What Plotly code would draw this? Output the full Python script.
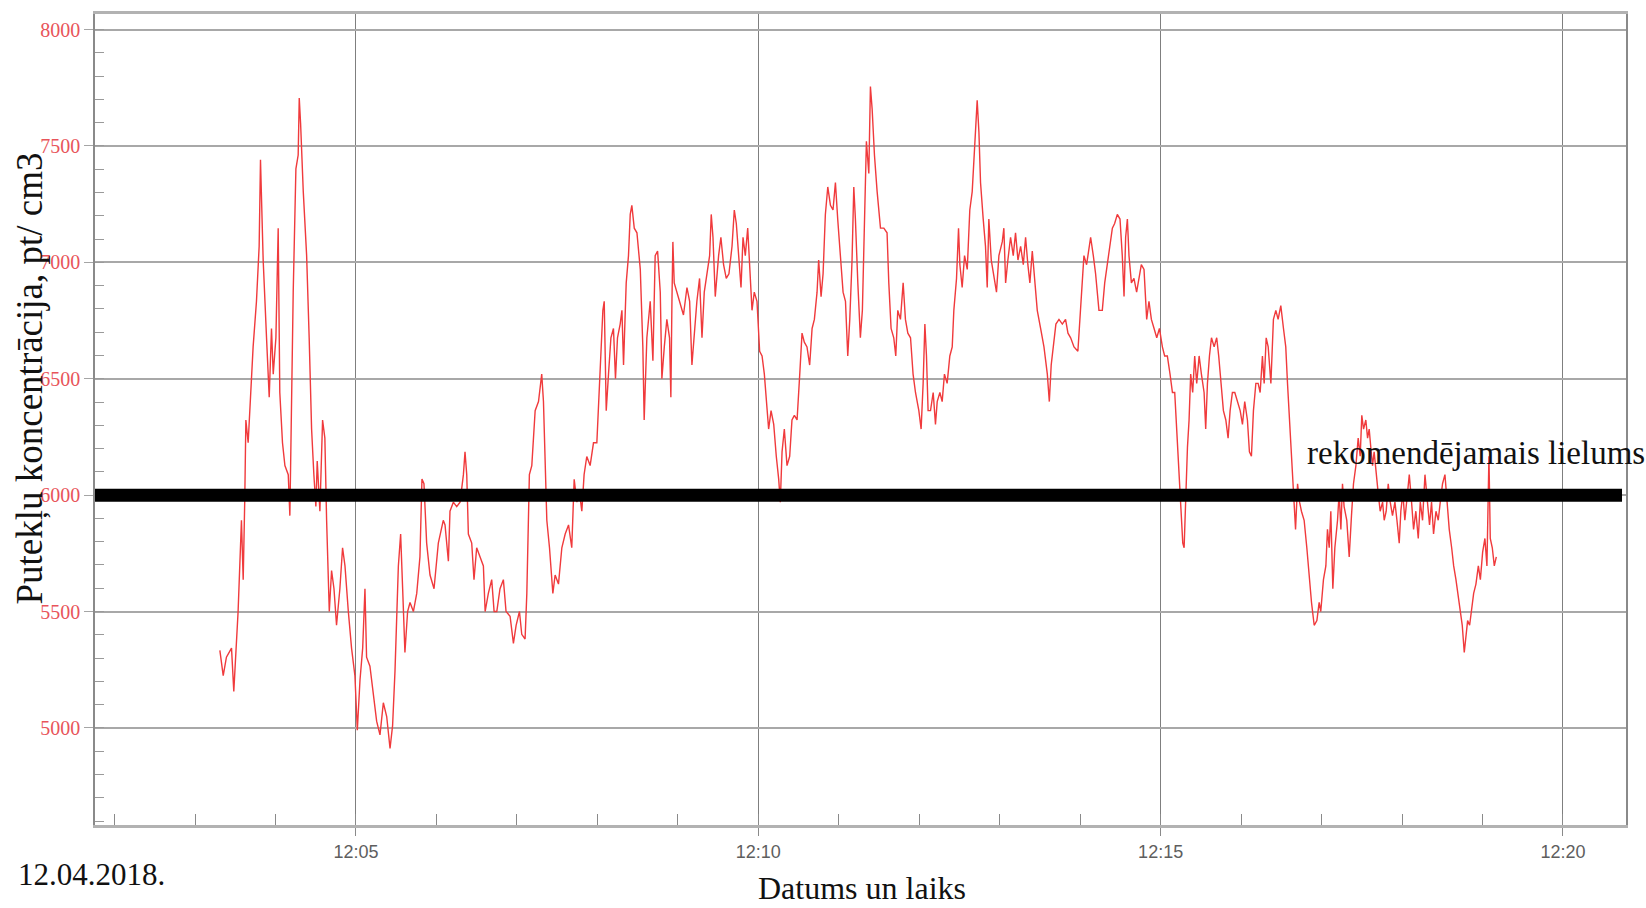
import pandas as pd
import plotly.graph_objects as go

# Seconds after 12:00:00 on 12.04.2018
elapsed_s = [
    198.5, 201.0, 203.4, 207.2, 208.9, 210.4, 212.1, 214.6, 215.9, 217.1,
    217.9, 219.6, 222.1, 223.3, 225.8, 227.8, 228.8, 230.8, 233.3, 235.3,
    237.0, 238.3, 240.3, 242.0, 243.2, 245.2, 247.0, 249.5, 250.7, 252.0,
    253.2, 255.2, 256.9, 257.7, 258.7, 260.7, 263.2, 265.1, 266.9, 268.6,
    270.1, 271.1, 273.1, 275.1, 276.8, 278.1, 280.1, 281.8, 283.6, 285.5,
    288.0, 290.0, 291.8, 294.3, 296.7, 299.2, 301.0, 303.0, 305.0, 306.7,
    307.9, 310.4, 312.9, 315.4, 317.9, 320.4, 322.9, 325.4, 327.3, 329.1,
    331.6, 333.3, 334.8, 336.5, 338.5, 340.3, 342.8, 345.3, 347.7, 349.2,
    350.7, 352.7, 355.2, 358.2, 361.4,
    365.1, 366.4, 368.9, 370.1, 372.6, 375.1, 377.6, 380.1, 381.3, 382.6,
    383.8, 386.3, 388.0, 390.0, 392.5, 395.0, 396.3, 398.7, 401.2, 403.0,
    405.0, 407.4, 409.9, 411.9, 414.9, 417.4, 419.4, 421.9, 423.6, 426.1,
    427.4, 429.3, 431.1, 433.6, 436.1, 438.5, 439.8, 441.0, 442.3, 444.3,
    446.8, 448.5, 451.0, 453.5, 456.0, 458.5, 460.9, 462.7, 464.7, 466.7,
    468.4, 470.1, 472.1, 474.6, 477.1, 479.6, 480.8, 482.1, 484.1, 485.1,
    486.6, 488.3, 490.1, 492.0, 493.5, 495.0, 497.0, 498.3, 499.5, 501.5,
    503.2, 504.5, 505.7, 507.5, 509.5, 512.0, 513.9, 514.9, 516.9, 519.4,
    521.4, 523.1, 524.9, 526.9,
    528.1, 529.9, 531.8, 533.8, 534.8, 535.6, 536.3, 537.3, 539.3, 541.8,
    544.2, 546.8, 548.8, 550.5, 552.2, 554.2, 556.2, 558.0, 559.7, 561.7,
    563.7, 564.9, 566.2, 567.9, 570.4, 572.1, 574.1, 576.1, 578.1, 580.4,
    582.1, 583.6, 585.3, 587.1, 588.6, 590.3, 592.1, 593.5, 595.3, 597.0,
    599.0, 601.0, 602.8, 604.5, 606.5, 607.7, 609.5, 611.5, 613.4, 615.2,
    616.4, 617.7, 619.4, 621.4, 623.4, 625.1, 626.9, 628.9, 630.9, 632.6,
    634.3, 636.3, 638.3, 640.1, 641.8, 643.8, 645.0, 646.8, 648.3, 650.0,
    651.8, 653.8, 655.7, 657.5, 659.2, 661.2, 663.2, 665.0, 666.7, 668.2,
    669.9, 671.2, 672.4, 674.2, 676.1, 677.6, 679.1, 680.6, 682.4, 683.6,
    684.9,
    686.6, 688.6, 691.1, 693.6, 696.0, 697.3, 699.0, 701.0, 702.5, 704.0,
    706.0, 708.0, 709.7, 711.5, 713.5, 715.4, 717.2, 719.7, 721.4, 722.9,
    724.2, 725.4, 726.6, 728.4, 730.4, 732.1, 733.4, 735.4, 737.1, 738.8,
    740.8, 742.8, 744.6, 745.8, 747.8, 749.3, 750.3, 752.0, 753.8, 755.8,
    757.7, 759.5, 761.2, 763.2, 764.5, 765.7, 767.7, 769.4, 770.7, 771.9,
    773.7, 775.7, 777.6, 779.4, 781.9, 783.1, 784.4, 786.1, 788.1, 790.1,
    791.8, 793.6, 795.6, 797.6, 799.3, 801.0, 802.5, 804.3, 806.0, 808.0,
    810.5, 813.0, 815.5, 817.0, 818.4, 820.4, 821.9, 824.2, 826.7, 829.1,
    830.9, 832.9, 835.4, 838.3, 839.8, 841.6, 842.8, 844.8, 846.6, 847.8,
    849.8, 851.5, 854.0,
    856.5, 858.3, 860.2, 862.2, 864.0, 865.7, 867.7, 869.7, 871.4, 872.7,
    873.9, 875.2, 876.4, 878.2, 880.1, 882.1, 883.9, 885.6, 887.6, 889.6,
    891.3, 893.1, 895.1, 897.1, 899.1, 901.3, 903.0, 905.0, 907.0, 908.8,
    910.5, 912.0, 913.5, 915.0, 916.5, 917.5, 918.7, 920.0, 921.2, 922.4,
    923.9, 925.4, 926.9, 928.7, 930.4, 932.4, 933.6, 934.9, 936.4, 937.9,
    939.9, 941.8, 943.3, 944.8, 946.8, 948.6, 950.3, 951.8, 953.5, 955.3,
    957.3, 959.3, 961.0, 962.7, 964.7, 966.2, 967.7, 969.2, 971.0, 972.7,
    974.2, 975.9, 977.2, 978.7, 980.2, 982.2, 984.1, 985.9, 987.6, 989.6,
    991.6, 993.3, 994.6, 996.1, 997.6, 999.1, 1000.6, 1002.1, 1003.6, 1005.0,
    1007.0, 1009.0, 1010.8, 1012.5, 1014.5, 1016.5, 1018.2,
    1019.4, 1021.4, 1023.2, 1024.4, 1025.7, 1026.9, 1028.4, 1029.9, 1031.9, 1033.1,
    1034.4, 1035.6, 1036.8, 1038.8, 1040.6, 1042.3, 1043.8, 1045.6, 1047.3, 1048.8,
    1050.0, 1051.3, 1053.0, 1054.3, 1055.5, 1056.7, 1058.0, 1059.2, 1060.7, 1062.2,
    1063.7, 1065.5, 1066.7, 1068.2, 1069.7, 1071.2, 1072.9, 1074.7, 1076.2, 1077.9,
    1079.1, 1080.6, 1082.1, 1083.6, 1085.4, 1087.1, 1088.6, 1090.3, 1092.1, 1093.6,
    1095.3, 1097.1, 1099.0, 1100.5, 1102.0, 1103.5, 1105.3, 1107.0, 1108.5, 1110.2,
    1112.0, 1113.5, 1115.2, 1117.0, 1118.5, 1120.2, 1121.9, 1123.4, 1124.9, 1126.4,
    1127.7, 1128.9, 1130.4, 1131.9, 1133.4, 1135.1, 1136.9, 1138.4, 1140.1, 1141.8,
    1143.3, 1144.8, 1145.8, 1147.3, 1148.8, 1150.3,
]

# Dust particle concentration, pt/cm3
concentration = [
    5333, 5225, 5304, 5343, 5157, 5343, 5500, 5892, 5637, 5990,
    6323, 6225, 6500, 6637, 6833, 7069, 7441, 7010, 6676, 6421,
    6716, 6520, 6676, 7147, 6441, 6225, 6127, 6088, 5912, 6480,
    6872, 7402, 7461, 7706, 7598, 7304, 7029, 6676, 6284, 6088,
    5951, 6147, 5931, 6323, 6245, 5892, 5500, 5676, 5598, 5441,
    5598, 5774, 5696, 5500, 5343, 5225, 4990, 5206, 5343, 5598,
    5304, 5265, 5147, 5029, 4970, 5108, 5049, 4912, 5010, 5245,
    5696, 5833, 5598, 5324, 5500, 5539, 5500, 5578, 5735, 6069,
    6049, 5794, 5657, 5598, 5794,
    5892, 5872, 5716, 5931, 5970, 5951, 5970, 6088, 6186, 6088,
    5833, 5794, 5637, 5774, 5735, 5696, 5500, 5578, 5637, 5500,
    5500, 5598, 5637, 5500, 5480, 5363, 5441, 5500, 5402, 5382,
    5578, 6088, 6127, 6363, 6402, 6520, 6402, 6088, 5892, 5774,
    5578, 5657, 5618, 5774, 5833, 5872, 5774, 6068, 5970, 6010,
    5931, 6088, 6166, 6127, 6225, 6225, 6363, 6559, 6794, 6833,
    6363, 6520, 6676, 6716, 6500, 6676, 6735, 6794, 6559, 6912,
    7029, 7206, 7245, 7147, 7127, 6970, 6637, 6323, 6676, 6833,
    6578, 7029, 7049, 6872,
    6500, 6637, 6755, 6676, 6421, 6833, 7088, 6912, 6872, 6814,
    6774, 6892, 6833, 6559, 6676, 6833, 6931, 6676, 6872, 6951,
    7029, 7206, 7108, 6853, 7029, 7108, 6990, 6931, 6951, 7069,
    7225, 7167, 7010, 6892, 7108, 7029, 7147, 7010, 6794, 6872,
    6833, 6618, 6598, 6520, 6363, 6284, 6363, 6304, 6167, 6069,
    5970, 6186, 6284, 6127, 6167, 6323, 6343, 6323, 6520, 6696,
    6657, 6637, 6559, 6716, 6755, 6872, 7010, 6853, 6951, 7206,
    7324, 7245, 7225, 7343, 7186, 7029, 6872, 6833, 6598, 6755,
    7010, 7324, 7186, 6912, 6676, 6794, 7206, 7520, 7382, 7755,
    7657,
    7461, 7304, 7147, 7147, 7127, 6912, 6716, 6676, 6598, 6794,
    6755, 6912, 6755, 6696, 6676, 6520, 6441, 6363, 6284, 6480,
    6735, 6598, 6363, 6363, 6441, 6304, 6402, 6441, 6402, 6520,
    6480, 6598, 6637, 6794, 6931, 7147, 6990, 6892, 7029, 6970,
    7225, 7304, 7461, 7696, 7559, 7343, 7186, 7069, 6892, 7186,
    7010, 6931, 6872, 7029, 7088, 7147, 6912, 7010, 7108, 7029,
    7127, 7010, 7069, 6990, 7108, 6990, 6912, 7049, 6912, 6794,
    6716, 6637, 6520, 6402, 6559, 6676, 6735, 6755, 6735, 6755,
    6696, 6676, 6637, 6618, 6755, 6912, 7029, 6990, 7069, 7108,
    7029, 6951, 6794,
    6794, 6912, 6990, 7069, 7147, 7167, 7206, 7186, 7029, 6853,
    7108, 7186, 7029, 6912, 6931, 6872, 6931, 6990, 6970, 6755,
    6833, 6755, 6716, 6676, 6716, 6637, 6598, 6598, 6520, 6441,
    6441, 6284, 6088, 5931, 5794, 5774, 6010, 6206, 6323, 6520,
    6441, 6598, 6480, 6598, 6520, 6441, 6284, 6480, 6598, 6676,
    6637, 6676, 6598, 6480, 6363, 6323, 6245, 6363, 6441, 6441,
    6402, 6363, 6304, 6402, 6323, 6186, 6167, 6363, 6480, 6480,
    6441, 6598, 6480, 6676, 6637, 6480, 6755, 6794, 6755, 6814,
    6716, 6637, 6480, 6323, 6167, 6010, 5853, 6049, 5970, 5931,
    5892, 5774, 5637, 5539, 5441, 5461, 5539,
    5500, 5637, 5696, 5853, 5774, 5931, 5598, 5774, 5892, 6010,
    5853, 6049, 5951, 5892, 5735, 5912, 6049, 6127, 6245, 6167,
    6343, 6284, 6323, 6245, 6284, 6206, 6127, 6186, 6088, 6010,
    5931, 5970, 5892, 5931, 6049, 5970, 5912, 5970, 5892, 5794,
    5931, 6010, 5892, 5970, 6088, 5970, 5853, 5931, 5814, 5970,
    5892, 6088, 5970, 5872, 5970, 5833, 5931, 5892, 5970, 6049,
    6088, 5970, 5853, 5774, 5696, 5637, 5559, 5500, 5441, 5324,
    5402, 5461, 5441, 5500, 5578, 5618, 5696, 5637, 5755, 5814,
    5696, 6167, 5814, 5774, 5696, 5735,
]

recommended_level = 6000
recommended_label = "rekomendējamais lielums"
y_ticks = [5000, 5500, 6000, 6500, 7000, 7500, 8000]
x_tick_minutes = [5, 10, 15, 20]
x_tick_labels = ["12:05", "12:10", "12:15", "12:20"]

day_start = pd.Timestamp("2018-04-12 12:00:00")
times = day_start + pd.to_timedelta(elapsed_s, unit="s")
x_tick_vals = [day_start + pd.Timedelta(minutes=m) for m in x_tick_minutes]
x_range = [day_start + pd.Timedelta(seconds=105.4), day_start + pd.Timedelta(seconds=1247)]

serif = "Liberation Serif, Times New Roman, serif"

fig = go.Figure()
fig.add_trace(go.Scatter(
    x=times, y=concentration, mode="lines",
    line=dict(color="#f03a3c", width=1.4),
    showlegend=False,
))

# recommended level
fig.add_shape(
    type="line", xref="x domain", yref="y",
    x0=0, x1=0.9974, y0=recommended_level, y1=recommended_level,
    line=dict(color="black", width=13), layer="above",
)

fig.update_xaxes(
    type="date", range=x_range,
    tickmode="array", tickvals=x_tick_vals, ticktext=x_tick_labels,
    ticks="outside", ticklen=8, tickcolor="#8a8a8a", tickwidth=1,
    tickfont=dict(family="Liberation Sans, Arial, sans-serif", size=18, color="#5e5e5e"),
    ticklabelstandoff=0,
    showgrid=True, gridcolor="#7f7f7f", gridwidth=1.3,
    showline=True, linecolor="#b2b2b2", linewidth=3, mirror=True,
    zeroline=False,
    minor=dict(tickmode="linear", tick0=day_start, dtick=60000,
               ticks="inside", ticklen=11, tickcolor="#8a8a8a", tickwidth=1,
               showgrid=False),
)

fig.update_yaxes(
    range=[4583, 8067],
    tickmode="array", tickvals=y_ticks,
    ticks="outside", ticklen=9, tickcolor="#a5a5a5", tickwidth=1,
    tickfont=dict(family=serif, size=20, color="#e8545a"),
    showgrid=True, gridcolor="#a8a8a8", gridwidth=2,
    showline=True, linecolor="#8a8a8a", linewidth=1.5, mirror=True,
    zeroline=False,
    minor=dict(tickmode="linear", tick0=5000, dtick=100,
               ticks="inside", ticklen=9, tickcolor="#9a9a9a", tickwidth=1,
               showgrid=False),
)

fig.add_annotation(
    text="Putekļu koncentrācija, pt/ cm3", textangle=-90,
    xref="paper", yref="paper", x=-0.0425, y=0.5504,
    xanchor="center", yanchor="middle", showarrow=False,
    font=dict(family=serif, size=37, color="#111111"),
)
fig.add_annotation(
    text="Datums un laiks",
    xref="paper", yref="paper", x=0.501, y=-0.0775,
    xanchor="center", yanchor="middle", showarrow=False,
    font=dict(family=serif, size=32, color="#111111"),
)
fig.add_annotation(
    text="12.04.2018.",
    xref="paper", yref="paper", x=-0.0026, y=-0.0614,
    xanchor="center", yanchor="middle", showarrow=False,
    font=dict(family=serif, size=31, color="#111111"),
)
fig.add_annotation(
    text=recommended_label,
    xref="paper", yref="paper", x=0.902, y=0.4582,
    xanchor="center", yanchor="middle", showarrow=False,
    font=dict(family=serif, size=33, color="#111111"),
)

fig.update_layout(
    width=1646, height=908, autosize=False,
    margin=dict(l=95, r=20, t=11, b=83),
    paper_bgcolor="white", plot_bgcolor="white",
)

fig.write_html("out.html")
